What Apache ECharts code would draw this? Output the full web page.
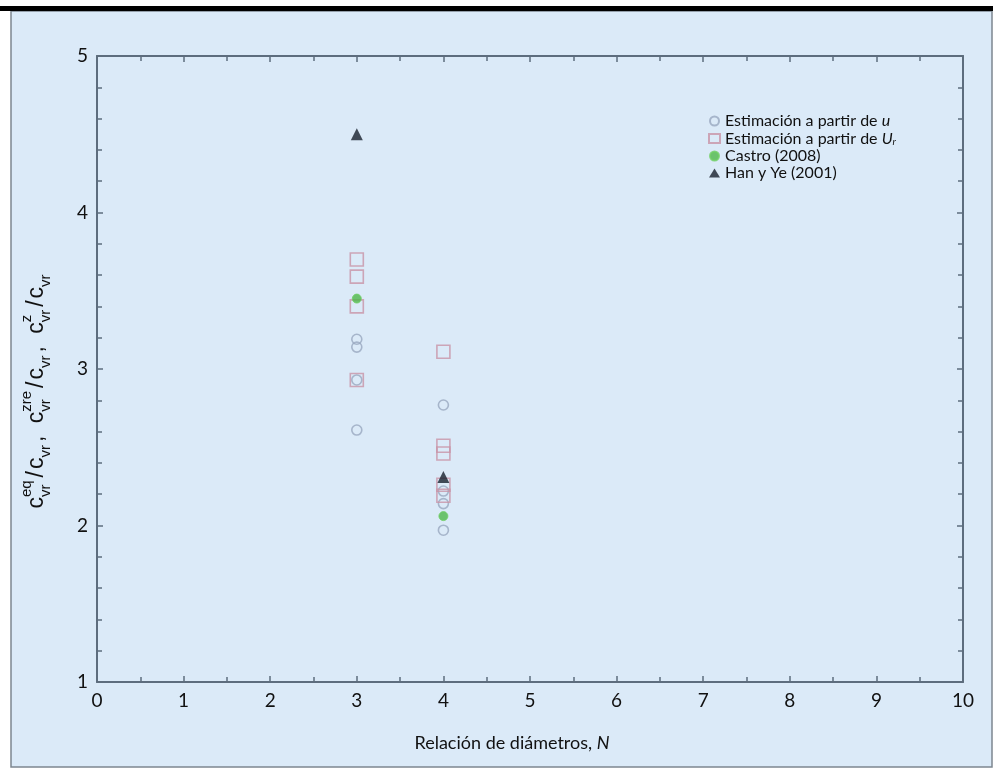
<!DOCTYPE html>
<html>
<head>
<meta charset="utf-8">
<script src="https://cdn.jsdelivr.net/npm/echarts@6/dist/echarts.min.js"></script>
<style>
  html, body { margin: 0; padding: 0; background: #ffffff; }
  #chart { width: 993px; height: 769px; }
</style>
</head>
<body>
<div id="chart"></div>
<script>
// ---- data -------------------------------------------------------------
const seriesNames = [
  'Estimación a partir de u',
  'Estimación a partir de Ur',
  'Castro (2008)',
  'Han y Ye (2001)'
];
// [N, ratio] pairs
const estimacionU  = [[3, 3.19], [3, 3.14], [3, 2.93], [3, 2.61], [4, 2.77], [4, 2.22], [4, 2.14], [4, 1.97]];
const estimacionUr = [[3, 3.70], [3, 3.59], [3, 3.40], [3, 2.93], [4, 3.11], [4, 2.51], [4, 2.46], [4, 2.26], [4, 2.19]];
const castro2008   = [[3, 3.45], [4, 2.06]];
const hanYe2001    = [[3, 4.50], [4, 2.31]];
const xTickLabels  = ['0', '1', '2', '3', '4', '5', '6', '7', '8', '9', '10'];
const yTickLabels  = ['1', '2', '3', '4', '5'];

// ---- layout / style ---------------------------------------------------
const PANEL = '#dbeaf8';
const AXIS = '#5d6d7e';
const TICK_FONT = 'Lato';
const grid = { left: 97, right: 30, top: 56, bottom: 87 };

const chart = echarts.init(document.getElementById('chart'), null, { renderer: 'canvas' });

// y-axis title built from pieces (superscripts stacked over subscripts)
function buildYTitle() {
  const fam = '"Liberation Sans", Arial, sans-serif';
  const big = 23, small = 15;
  const ctx = document.createElement('canvas').getContext('2d');
  const w = (t, s) => { ctx.font = s + 'px ' + fam; return ctx.measureText(t).width; };
  const parts = [];
  let x = 0;
  const main = (t, gap = 0) => { parts.push({ t, x, y: 0, s: big }); x += w(t, big) + gap; };
  const sub = t => { parts.push({ t, x, y: 9, s: small }); x += w(t, small) + 3; };
  const stack = (sup, sb) => {
    parts.push({ t: sup, x, y: -10, s: small });
    parts.push({ t: sb, x, y: 9, s: small });
    x += Math.max(w(sup, small), w(sb, small)) + 3;
  };
  const term = sup => { main('c'); stack(sup, 'vr'); main('/', 2); main('c'); sub('vr'); };
  term('eq'); main(', ', 6); term('zre'); main(', ', 6); term('z');
  const total = x;
  return parts.map(p => ({
    type: 'text',
    x: p.x - total / 2,
    y: p.y,
    style: {
      text: p.t,
      font: p.s + 'px ' + fam,
      fill: '#111111',
      align: 'left', verticalAlign: 'middle',
      textAlign: 'left', textVerticalAlign: 'middle'
    }
  }));
}

const legendRich = {
  i: { fontStyle: 'italic', fontSize: 16, fontFamily: TICK_FONT, color: '#111', lineHeight: 16 },
  s: { fontStyle: 'italic', fontSize: 10, fontFamily: TICK_FONT, color: '#111', padding: [7, 0, 0, 0], lineHeight: 16 }
};
const legendLabel = {
  'Estimación a partir de u': 'Estimación a partir de {i|u}',
  'Estimación a partir de Ur': 'Estimación a partir de {i|U}{s|r}'
};

const option = {
  backgroundColor: '#ffffff',
  animation: false,
  graphic: [
    { type: 'rect', shape: { x: 11, y: 11, width: 981, height: 756 },
      style: { fill: PANEL, stroke: '#7d8790', lineWidth: 1.5 }, z: -10 },
    { type: 'rect', shape: { x: 0, y: 6, width: 993, height: 5 },
      style: { fill: '#000000' }, z: -9 },
    { type: 'group', x: 37, y: 390, rotation: Math.PI / 2, children: buildYTitle() }
  ],
  grid: grid,
  legend: {
    orient: 'vertical',
    left: 703,
    top: 108,
    itemWidth: 11,
    itemHeight: 9,
    itemGap: 1,
    data: seriesNames,
    textStyle: { fontFamily: TICK_FONT, fontSize: 16, color: '#111', rich: legendRich, lineHeight: 16 },
    formatter: name => legendLabel[name] || name
  },
  xAxis: [
    {
      type: 'value', min: 0, max: 10, interval: 1,
      name: 'Relación de diámetros, {i|N}',
      nameLocation: 'middle', nameGap: 52,
      nameTextStyle: { fontFamily: TICK_FONT, fontSize: 18, color: '#111', padding: [0, 36, 0, 0],
        rich: { i: { fontStyle: 'italic', fontFamily: TICK_FONT, fontSize: 18, color: '#111' } } },
      axisLine: { show: true, onZero: false, lineStyle: { color: AXIS, width: 2 } },
      axisTick: { show: true, inside: true, length: 6, lineStyle: { color: AXIS, width: 1.5 } },
      minorTick: { show: true, splitNumber: 2, length: 5, lineStyle: { color: AXIS, width: 1.5 } },
      axisLabel: { fontFamily: TICK_FONT, fontSize: 19, color: '#111', margin: 9,
        formatter: v => xTickLabels[Math.round(v)] },
      splitLine: { show: false }
    },
    {
      type: 'value', min: 0, max: 10, interval: 1, position: 'top',
      axisLine: { show: true, onZero: false, lineStyle: { color: AXIS, width: 2 } },
      axisTick: { show: true, inside: true, length: 6, lineStyle: { color: AXIS, width: 1.5 } },
      minorTick: { show: true, splitNumber: 2, length: 5, lineStyle: { color: AXIS, width: 1.5 } },
      axisLabel: { show: false },
      splitLine: { show: false }
    }
  ],
  yAxis: [
    {
      type: 'value', min: 1, max: 5, interval: 1,
      axisLine: { show: true, onZero: false, lineStyle: { color: AXIS, width: 2 } },
      axisTick: { show: true, inside: true, length: 6, lineStyle: { color: AXIS, width: 1.5 } },
      minorTick: { show: true, splitNumber: 5, length: 5, lineStyle: { color: AXIS, width: 1.5 } },
      axisLabel: { fontFamily: TICK_FONT, fontSize: 19, color: '#111', margin: 9,
        formatter: v => yTickLabels[Math.round(v) - 1] },
      splitLine: { show: false }
    },
    {
      type: 'value', min: 1, max: 5, interval: 1, position: 'right',
      axisLine: { show: true, onZero: false, lineStyle: { color: AXIS, width: 2 } },
      axisTick: { show: true, inside: true, length: 6, lineStyle: { color: AXIS, width: 1.5 } },
      minorTick: { show: true, splitNumber: 5, length: 5, lineStyle: { color: AXIS, width: 1.5 } },
      axisLabel: { show: false },
      splitLine: { show: false }
    }
  ],
  series: [
    {
      name: seriesNames[0], type: 'scatter', data: estimacionU,
      symbol: 'circle', symbolSize: 10,
      itemStyle: { color: 'rgba(0,0,0,0)', borderColor: '#98a7bf', borderWidth: 1.6 },
      z: 2
    },
    {
      name: seriesNames[1], type: 'scatter', data: estimacionUr,
      symbol: 'rect', symbolSize: 13,
      itemStyle: { color: 'rgba(0,0,0,0)', borderColor: '#c894a6', borderWidth: 1.6 },
      z: 3
    },
    {
      name: seriesNames[2], type: 'scatter', data: castro2008,
      symbol: 'circle', symbolSize: 9,
      itemStyle: { color: '#4fb84a', borderColor: '#6fcf63', borderWidth: 1 },
      z: 4
    },
    {
      name: seriesNames[3], type: 'scatter', data: hanYe2001,
      symbol: 'triangle', symbolSize: 12,
      itemStyle: { color: '#18212d' },
      z: 5
    }
  ]
};

chart.setOption(option);
</script>
</body>
</html>
